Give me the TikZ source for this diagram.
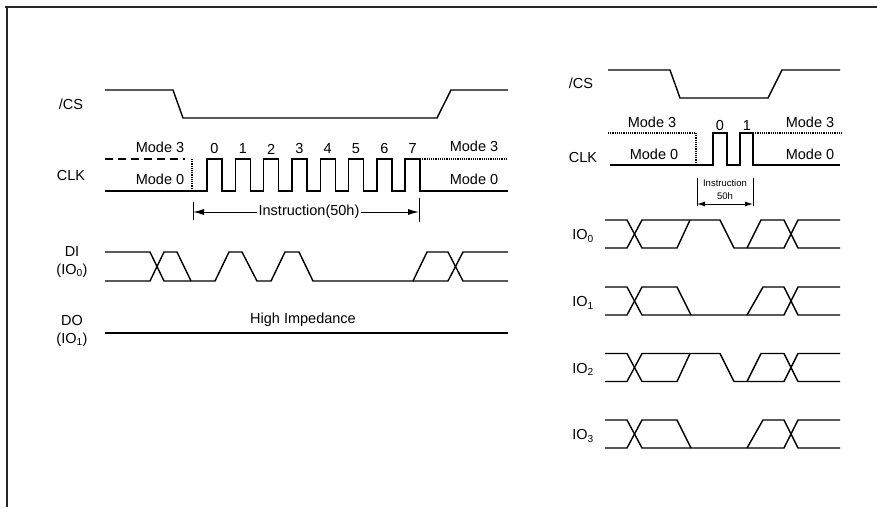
\documentclass[tikz,border=0pt]{standalone}
\usepackage{fontspec}
\setmainfont{Liberation Sans}
\usetikzlibrary{arrows.meta}

\tikzset{
  sig/.style = {line width=1.4pt, line join=miter},
  lbl/.style = {font=\fontsize{14.5}{16}\selectfont, inner sep=0pt},
  tiny/.style = {font=\fontsize{9.5}{13}\selectfont, inner sep=0pt, align=center},
  tick/.style = {line width=1pt},
  arr/.style = {line width=1pt, -{Latex[length=11pt,width=6pt]}}
}

\begin{document}
\begin{tikzpicture}[x=1pt, y=-1pt]
  \useasboundingbox (0,0) rectangle (877,507);
  \draw [line width=1.8pt, black!85] (5,7) -- (877,7);
  \draw [line width=1.8pt, black!85] (7,7) -- (7,507);

  % left: instruction 50h
  \node [lbl] (cs) at (71,104) {/CS};
  \node [lbl] (clk) at (71,176) {CLK};
  \node [lbl] (di) at (72,252) {DI};
  \node [lbl] (dio) at (72,271) {(IO\textsubscript{0})};
  \node [lbl] (do) at (72,320) {DO};
  \node [lbl] (doo) at (72,340) {(IO\textsubscript{1})};

  \draw [sig] (105,90) -- (173,90) -- (183,118) -- (437,118) -- (451,90) -- (508,90);

  \draw [sig, dash pattern=on 8pt off 5pt] (105,159) -- (185,159);
  \draw [line width=1.2pt, densely dotted] (192,159) -- (192,191);
  \draw [sig] (105,191) foreach \i in {0,...,7} { -- ({207+28.3*\i},191) -- ++(0,-32) -- ++(15,0) -- ++(0,32) } -- (508,191);
  \draw [line width=1.2pt, densely dotted] (420,159) -- (508,159);
  \foreach \i in {0,...,7}
    \node [lbl] (b\i) at ({214.5+28.3*\i},149) {\i};
  \node [lbl] (m3l) at (160,147) {Mode 3};
  \node [lbl] (m0l) at (160,179) {Mode 0};
  \node [lbl] (m3r) at (474,146) {Mode 3};
  \node [lbl] (m0r) at (474,179) {Mode 0};

  \coordinate (il) at (193,212);
  \coordinate (ir) at (419,212);
  \draw [tick] (193,202) -- (193,220);
  \draw [tick] (419,198) -- (419,222);
  \node [lbl, fill=white, inner xsep=1pt] (instr) at (309,212) {Instruction(50h)};
  \draw [arr] (instr) -- (il);
  \draw [arr] (instr) -- (ir);

  \draw [sig] (105,252) -- (150,252) -- (164,281) -- (215,281) -- (229,252) -- (242,252) -- (257,281)
    -- (271,281) -- (285,252) -- (299,252) -- (313,281) -- (413,281) -- (427,252) -- (448,252) -- (463,281) -- (508,281);
  \draw [sig] (105,281) -- (150,281) -- (164,252) -- (177,252) -- (191,281);
  \draw [sig] (413,281) -- (448,281) -- (463,252) -- (508,252);

  \draw [sig] (105,333) -- (508,333);
  \node [lbl] (hiz) at (303,320) {High Impedance};

  % right: instruction 50h, quad
  \node [lbl] (qcs) at (581,83) {/CS};
  \node [lbl] (qclk) at (583,158) {CLK};
  \draw [sig] (608,70) -- (670,70) -- (680,98) -- (768,98) -- (782,70) -- (840,70);

  \draw [line width=1.2pt, densely dotted] (608,133) -- (696,133) -- (696,165);
  \draw [sig] (610,165) -- (713,165) -- (713,133) -- (727,133) -- (727,165) -- (740,165) -- (740,133) -- (753,133) -- (753,165) -- (840,165);
  \draw [line width=1.2pt, densely dotted] (753,133) -- (842,133);
  \node [lbl] (q0) at (720,126) {0};
  \node [lbl] (q1) at (747,126) {1};
  \node [lbl] (qm3l) at (652,122) {Mode 3};
  \node [lbl] (qm0l) at (654,154) {Mode 0};
  \node [lbl] (qm3r) at (810,122) {Mode 3};
  \node [lbl] (qm0r) at (810,154) {Mode 0};

  \coordinate (ql) at (697,204);
  \coordinate (qr) at (753,204);
  \draw [tick] (697,178) -- (697,206);
  \draw [tick] (753,178) -- (753,206);
  \draw [line width=1pt, {Latex[length=8pt,width=5pt]}-{Latex[length=8pt,width=5pt]}] (ql) -- (qr);
  \node [tiny] (qinstr) at (725,190) {Instruction\\50h};

  \foreach \h/\n in {220/0, 353.5/2} {
    \begin{scope}[shift={(0,\h)}]
      \draw [sig] (605,0) -- (627,0) -- (642,28) -- (677,28) -- (690,0);
      \draw [sig] (605,28) -- (627,28) -- (642,0) -- (720,0) -- (734,28) -- (784,28) -- (798,0) -- (840,0);
      \draw [sig] (747,28) -- (761,0) -- (784,0) -- (798,28) -- (840,28);
      \node [lbl] (io\n) at (583,16) {IO\textsubscript{\n}};
    \end{scope}
  }
  \foreach \h/\n in {287/1, 420/3} {
    \begin{scope}[shift={(0,\h)}]
      \draw [sig] (605,0) -- (627,0) -- (642,28) -- (784,28) -- (798,0) -- (840,0);
      \draw [sig] (605,28) -- (627,28) -- (642,0) -- (677,0) -- (691,28);
      \draw [sig] (747,28) -- (763,0) -- (784,0) -- (798,28) -- (840,28);
      \node [lbl] (io\n) at (583,16) {IO\textsubscript{\n}};
    \end{scope}
  }
\end{tikzpicture}
\end{document}
